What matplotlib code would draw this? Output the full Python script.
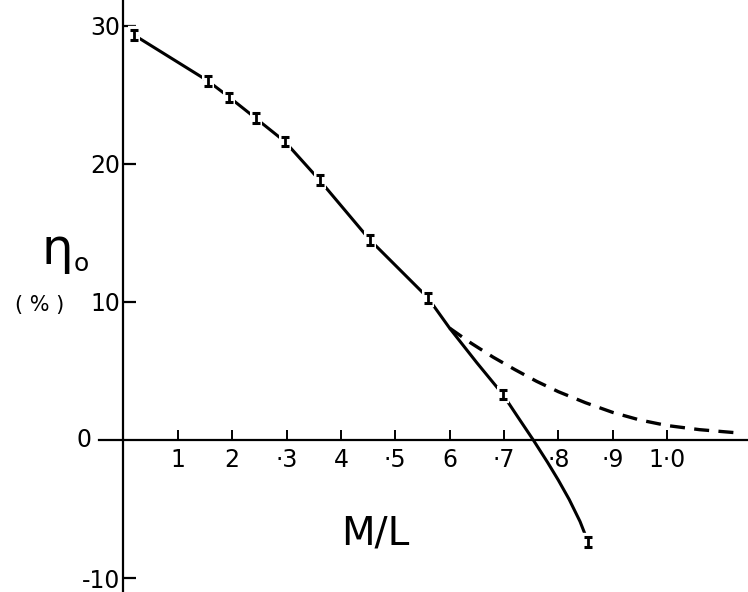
import matplotlib.pyplot as plt

# measured points (M/L, efficiency %)
ml = [0.02, 0.155, 0.195, 0.243, 0.297, 0.361, 0.453, 0.56, 0.698, 0.855]
eta = [29.3, 26.0, 24.8, 23.3, 21.6, 18.8, 14.5, 10.3, 3.3, -7.4]
err = [0.35, 0.35, 0.35, 0.35, 0.35, 0.35, 0.35, 0.35, 0.35, 0.35]

# solid curve traced through the points
solid_x = [0.02, 0.155, 0.195, 0.243, 0.297, 0.361, 0.453, 0.56, 0.60, 0.65,
           0.698, 0.725, 0.754, 0.78, 0.80, 0.82, 0.84, 0.855]
solid_y = [29.3, 26.0, 24.8, 23.3, 21.6, 18.8, 14.5, 10.3, 8.1, 5.6,
           3.3, 1.7, 0.0, -1.6, -2.9, -4.3, -5.9, -7.4]

# dashed extrapolation
dash_x = [0.60, 0.64, 0.68, 0.72, 0.76, 0.80, 0.85, 0.90, 0.95, 1.00, 1.06, 1.135]
dash_y = [8.1, 7.0, 6.0, 5.1, 4.25, 3.5, 2.7, 2.0, 1.45, 1.05, 0.75, 0.5]

xticks = [0.1, 0.2, 0.3, 0.4, 0.5, 0.6, 0.7, 0.8, 0.9, 1.0]
xlabels = ["1", "2", "·3", "4", "·5", "6", "·7", "·8", "·9", "1·0"]
yticks = [-10, 10, 20, 30]
ylabels = ["-10", "10", "20", "30"]

fig = plt.figure(figsize=(7.48, 5.92), dpi=100)
ax = fig.add_axes([0.1324, 0.0, 0.8676, 1.0])
ax.set_xlim(-0.045, 1.149)
ax.set_ylim(-11.0, 31.85)

for s in ["top", "right"]:
    ax.spines[s].set_visible(False)
ax.spines["left"].set_position(("data", 0))
ax.spines["bottom"].set_position(("data", 0))
ax.spines["left"].set_linewidth(1.6)
ax.spines["bottom"].set_linewidth(1.6)

ax.plot(solid_x, solid_y, color="black", lw=2.2, zorder=2)
ax.plot(dash_x, dash_y, color="black", lw=2.4, dashes=(4.5, 2.8), zorder=2)

# white halo so the curve breaks around each error bar, like the drawing
ax.errorbar(ml, eta, yerr=err, fmt="none", ecolor="white", elinewidth=6,
            capsize=4, capthick=6, zorder=3)
ax.errorbar(ml, eta, yerr=err, fmt="none", ecolor="black", elinewidth=2.0,
            capsize=3, capthick=2.2, zorder=4)

ax.set_xticks(xticks)
ax.set_xticklabels(xlabels, fontsize=17)
ax.set_yticks(yticks)
ax.set_yticklabels(ylabels, fontsize=17)
ax.tick_params(axis="x", direction="in", length=7, width=1.4, pad=6)
ax.tick_params(axis="y", direction="in", length=9, width=1.6, pad=2)

ax.text(-0.058, 0, "0", fontsize=17, ha="right", va="center")

fig.text(57 / 748, 1 - 250 / 592, "η", fontsize=36, ha="center", va="center")
fig.text(81 / 748, 1 - 264 / 592, "o", fontsize=18, ha="center", va="center")
fig.text(40 / 748, 1 - 305 / 592, "( % )", fontsize=15, ha="center", va="center")
fig.text(375 / 748, 1 - 534 / 592, "M/L", fontsize=28, ha="center", va="center")

fig.savefig("out.png", dpi=100)
